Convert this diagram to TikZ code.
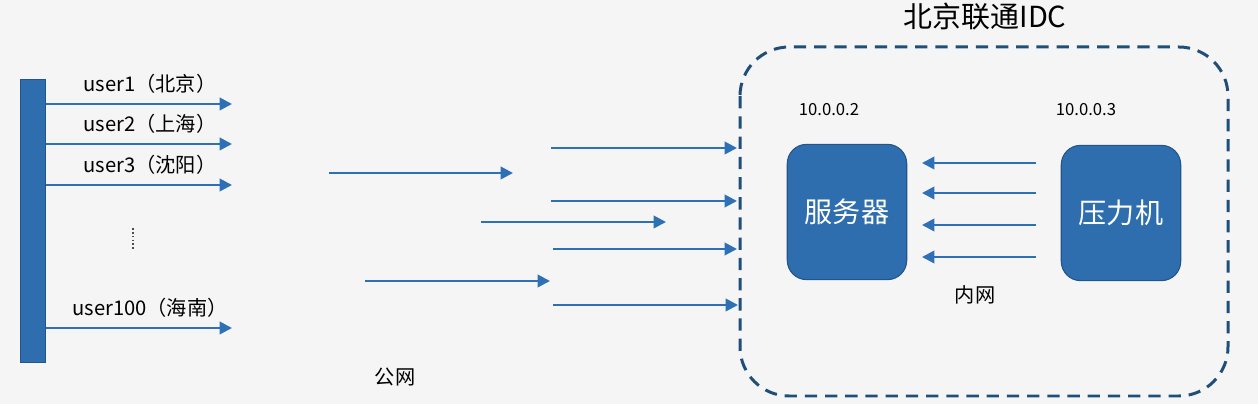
\documentclass[tikz,border=0pt]{standalone}
\usepackage{fontspec}
\setmainfont{Noto Sans CJK SC}
\usetikzlibrary{arrows.meta}
\definecolor{boxblue}{RGB}{46,109,174}
\definecolor{edgeblue}{RGB}{37,84,138}
\definecolor{linkblue}{RGB}{46,112,182}
\definecolor{idcblue}{RGB}{31,78,121}
\definecolor{bggray}{RGB}{245,245,246}
\tikzstyle{link}=[linkblue,line width=1.5pt,-{Triangle[length=7pt,width=7pt]}]
\tikzstyle{host}=[rectangle,rounded corners=11pt,fill=boxblue,draw=edgeblue,line width=0.6pt,
                  minimum width=68pt,minimum height=77pt,text=white,font=\fontsize{16}{18}\selectfont]
\tikzstyle{tag}=[inner sep=0pt,font=\fontsize{11.5}{13}\selectfont]
\tikzstyle{iptag}=[inner sep=0pt,font=\fontsize{9.5}{11}\selectfont]

\begin{document}
\begin{tikzpicture}[x=0.02cm,y=-0.02cm]
  \fill[bggray] (0,0) rectangle (1258,404);
  \useasboundingbox (0,0) rectangle (1258,404);
  % users
  \node[rectangle,fill=boxblue,draw=edgeblue,line width=0.6pt,inner sep=0pt,
        minimum width=14pt,minimum height=161pt] (bar) at (33,221) {};
  \foreach \name/\y/\text in {user-1/104/user1（北京）, user-2/144/user2（上海）,
                              user-3/185/user3（沈阳）, user-100/328/user100（海南）}
    {
      \coordinate (\name) at (46,\y);
      \coordinate (\name-end) at (232,\y);
      \draw[link] (\name) -- (\name-end);
      \node[tag] (\name-label) at (150,\y-20) {\text};
    }
  \coordinate (dots-a) at (133,228);
  \coordinate (dots-b) at (133,250);
  \draw[black!70,line width=1.2pt,dash pattern=on 1pt off 1.2pt] (dots-a) -- (dots-b);
  % internet
  \foreach \name/\xa/\xb/\y in {w-1/551/737/148, w-2/329/513/173, w-3/551/737/201,
                                w-4/481/666/222, w-5/553/737/249, w-6/365/550/281, w-7/553/738/305}
    {
      \coordinate (\name) at (\xa,\y);
      \coordinate (\name-end) at (\xb,\y);
      \draw[link] (\name) -- (\name-end);
    }
  \node[tag] (wan) at (395,377) {公网};
  % idc
  \draw[idcblue,line width=1.7pt,dash pattern=on 7pt off 4.5pt,rounded corners=28pt]
    (740,47) rectangle (1228,396);
  \node[inner sep=0pt,font=\fontsize{16.5}{18}\selectfont] (idc) at (985,16) {北京联通IDC};
  \node[host] (server) at (847,212) {服务器};
  \node[host] (tester) at (1121,213) {压力机};
  \node[iptag] (server-ip) at (829,110) {10.0.0.2};
  \node[iptag] (tester-ip) at (1086,110) {10.0.0.3};
  \foreach \i/\y in {1/163,2/193,3/225,4/257}
    {
      \coordinate (lan-\i) at (1036,\y);
      \coordinate (lan-\i-end) at (922,\y);
      \draw[link] (lan-\i) -- (lan-\i-end);
    }
  \node[tag] (lan) at (975,295) {内网};
\end{tikzpicture}
\end{document}
